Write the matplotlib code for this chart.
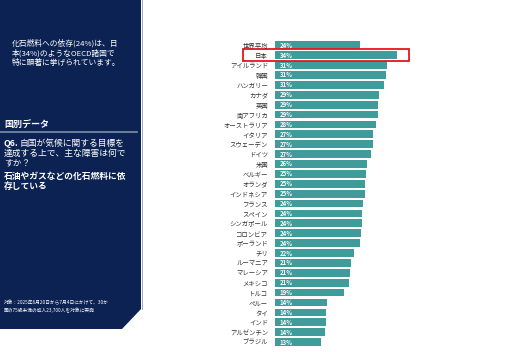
import matplotlib
matplotlib.use("Agg")
import matplotlib.pyplot as plt
from matplotlib.patches import Polygon, Rectangle

plt.rcParams['font.family'] = ['Noto Sans CJK JP', 'DejaVu Sans']

# データ
countries = ['世界平均', '日本', 'アイルランド', '韓国', 'ハンガリー', 'カナダ', '英国',
             '南アフリカ', 'オーストラリア', 'イタリア', 'スウェーデン', 'ドイツ', '米国',
             'ベルギー', 'オランダ', 'インドネシア', 'フランス', 'スペイン', 'シンガポール',
             'コロンビア', 'ポーランド', 'チリ', 'ルーマニア', 'マレーシア', 'メキシコ',
             'トルコ', 'ペルー', 'タイ', 'インド', 'アルゼンチン', 'ブラジル']
values = [23.6, 33.8, 31.1, 30.7, 30.4, 28.8, 28.7,
          28.6, 28.1, 27.2, 27.1, 26.8, 25.5,
          25.4, 25.0, 24.9, 24.4, 24.3, 24.2,
          24.0, 23.7, 22.0, 21.0, 20.8, 20.5,
          19.3, 14.5, 14.3, 14.1, 13.8, 12.8]
labels = ['24%', '34%', '31%', '31%', '31%', '29%', '29%',
          '29%', '28%', '27%', '27%', '27%', '26%',
          '25%', '25%', '25%', '24%', '24%', '24%',
          '24%', '24%', '22%', '21%', '21%', '21%',
          '19%', '14%', '14%', '14%', '14%', '13%']

W, H = 530, 352
navy = '#0b2253'
teal = '#3f9c9a'

fig = plt.figure(figsize=(W / 100, H / 100), dpi=100)
fig.patch.set_facecolor('white')

# 左側のパネル
bg = fig.add_axes([0, 0, 1, 1])
bg.set_xlim(0, W)
bg.set_ylim(H, 0)
bg.axis('off')
bg.add_patch(Polygon([(0, 0), (141, 0), (141, 309), (122, 329), (0, 329)],
                     closed=True, facecolor=navy, edgecolor='none'))
bg.plot([141.5, 141.5], [0, 309], color='#8a9bb5', lw=0.6)
bg.plot([0, 137], [132, 132], color='#7f8fa8', lw=1.2)

intro = ['化石燃料への依存(24%)は、日', '本(34%)のようなOECD諸国で', '特に顕著に挙げられています。']
for k, line in enumerate(intro):
    bg.text(12, 43 + 10 * k, line, color='white', fontsize=5.6, va='center', ha='left')

bg.text(4, 124, '国別データ', color='white', fontsize=6.5, fontweight='bold', va='center')

bg.text(4, 143, 'Q6.', color='white', fontsize=6.3, fontweight='bold', va='center')
question = ['自国が気候に関する目標を', '達成する上で、主な障害は何で', 'すか？']
bg.text(20, 143, question[0], color='white', fontsize=6.3, va='center')
bg.text(4, 153, question[1], color='white', fontsize=6.3, va='center')
bg.text(4, 163, question[2], color='white', fontsize=6.3, va='center')

answer = ['石油やガスなどの化石燃料に依', '存している']
for k, line in enumerate(answer):
    bg.text(4, 176 + 10 * k, line, color='white', fontsize=6.3, fontweight='bold', va='center')

bg.text(4, 303, '対象：2025年6月20日から7月4日にかけて、30か', color='white', fontsize=3.4, va='center')
bg.text(4, 310, '国の75歳未満の成人23,700人を対象に実施', color='white', fontsize=3.4, va='center')

# 棒グラフ
x0, xw = 275, 150
y_top, y_bot = 40.35, 347.0
ax = fig.add_axes([x0 / W, (H - y_bot) / H, xw / W, (y_bot - y_top) / H])
ax.set_xlim(0, xw / 3.6)
n = len(countries)
ax.set_ylim(n - 0.5, -0.5)
ax.barh(range(n), values, height=0.78, color=teal)
for i, lab in enumerate(labels):
    ax.text(1.3, i, lab, color='white', fontsize=4.3, fontweight='bold', va='center', ha='left')
ax.set_yticks(range(n))
ax.set_yticklabels(countries, fontsize=4.6, color='#333333')
ax.tick_params(axis='y', length=0, pad=5)
ax.set_xticks([])
for s in ax.spines.values():
    s.set_visible(False)
ax.patch.set_alpha(0)

ax.add_patch(Rectangle((-8.9, 0.4), 46.1, 1.2, fill=False, edgecolor='#e8141c',
                       lw=1.3, clip_on=False))

fig.savefig('out.png', dpi=100)
